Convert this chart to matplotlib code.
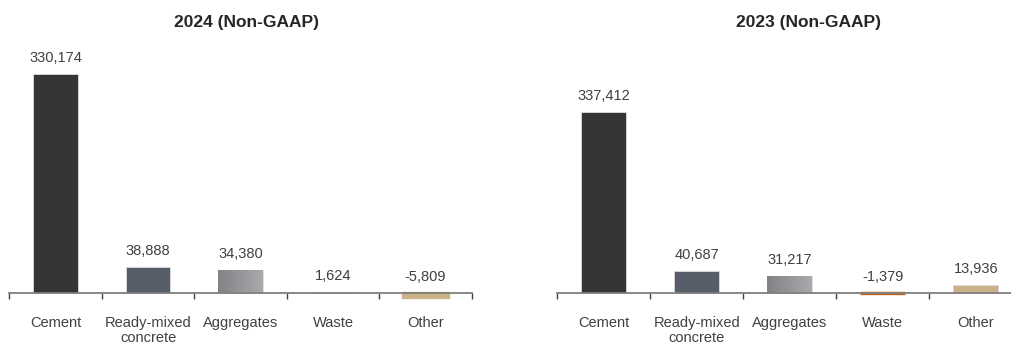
import numpy as np
import matplotlib
matplotlib.use("Agg")
import matplotlib.pyplot as plt
from matplotlib.colors import LinearSegmentedColormap

plt.rcParams['font.family'] = ['Liberation Sans', 'DejaVu Sans']

categories = ["Cement", "Ready-mixed\nconcrete", "Aggregates", "Waste", "Other"]
values_2024 = [330174, 38888, 34380, 1624, -5809]
values_2023 = [337412, 40687, 31217, -1379, 13936]
titles = ["2024 (Non-GAAP)", "2023 (Non-GAAP)"]

colors = ["#353535", "#575e6a", None, "#c2611c", "#cbb088"]
grad = LinearSegmentedColormap.from_list("agg", ["#838387", "#a9a9ad"])

W, H = 1011, 347
fig = plt.figure(figsize=(W / 100, H / 100), dpi=100)

TXT = "#404040"


def panel(x0, x1, zero_y, px_per_unit, values, title, title_x):
    # axes spans pixel rows 40..300 (from top); zero line at zero_y
    top_px, bot_px = 40, 300
    ymax = (zero_y - top_px) / px_per_unit
    ymin = -(bot_px - zero_y) / px_per_unit
    ax = fig.add_axes([x0 / W, 1 - bot_px / H, (x1 - x0) / W, (bot_px - top_px) / H])
    x = np.arange(len(values))
    edge = [("#dcdcdc" if v >= 0 else (c or "#dcdcdc")) for v, c in zip(values, colors)]
    lw = [0.6 if v >= 0 else 2.4 for v in values]
    bars = ax.bar(x, values, width=0.48, color=[c if c else "none" for c in colors],
                  edgecolor=edge, linewidth=lw, zorder=2)
    # gradient fill for the aggregates bar
    b = bars[2]
    bx, by = b.get_x(), b.get_y()
    bw, bh = b.get_width(), b.get_height()
    ax.imshow(np.linspace(0, 1, 64).reshape(1, -1), cmap=grad, aspect="auto",
              extent=[bx, bx + bw, by, by + bh], zorder=2)
    ax.set_xlim(-0.5, len(values) - 0.5)
    ax.set_ylim(ymin, ymax)

    for s in ["top", "right", "left"]:
        ax.spines[s].set_visible(False)
    ax.spines["bottom"].set_position(("data", 0))
    ax.spines["bottom"].set_color("#7f7f7f")
    ax.spines["bottom"].set_linewidth(1.3)
    ax.spines["bottom"].set_zorder(5)
    ax.set_yticks([])
    ax.set_xticks(x)
    ax.set_xticklabels(categories, fontsize=10.5, color=TXT, linespacing=1.1, va="top")
    ax.tick_params(axis="x", which="major", length=0, pad=17)
    ax.set_xticks(np.arange(-0.5, len(values)), minor=True)
    ax.tick_params(axis="x", which="minor", length=4, width=1, color="#404040", direction="out")
    ax.patch.set_visible(False)

    off = 9 / px_per_unit
    for xi, v in zip(x, values):
        ax.text(xi, max(v, 0) + off, f"{v:,}", ha="center", va="bottom",
                fontsize=10.5, color=TXT)
    fig.text(title_x / W, 1 - 23 / H, title, ha="center", va="center",
             fontsize=12.5, fontweight="bold", color="#262626")
    return ax


panel(9.3, 471.7, 292.7, 218.7 / 330174, values_2024, titles[0], 247)
panel(557.3, 1022.3, 292.7, 181.0 / 337412, values_2023, titles[1], 808)

fig.savefig("out.png", dpi=100)
